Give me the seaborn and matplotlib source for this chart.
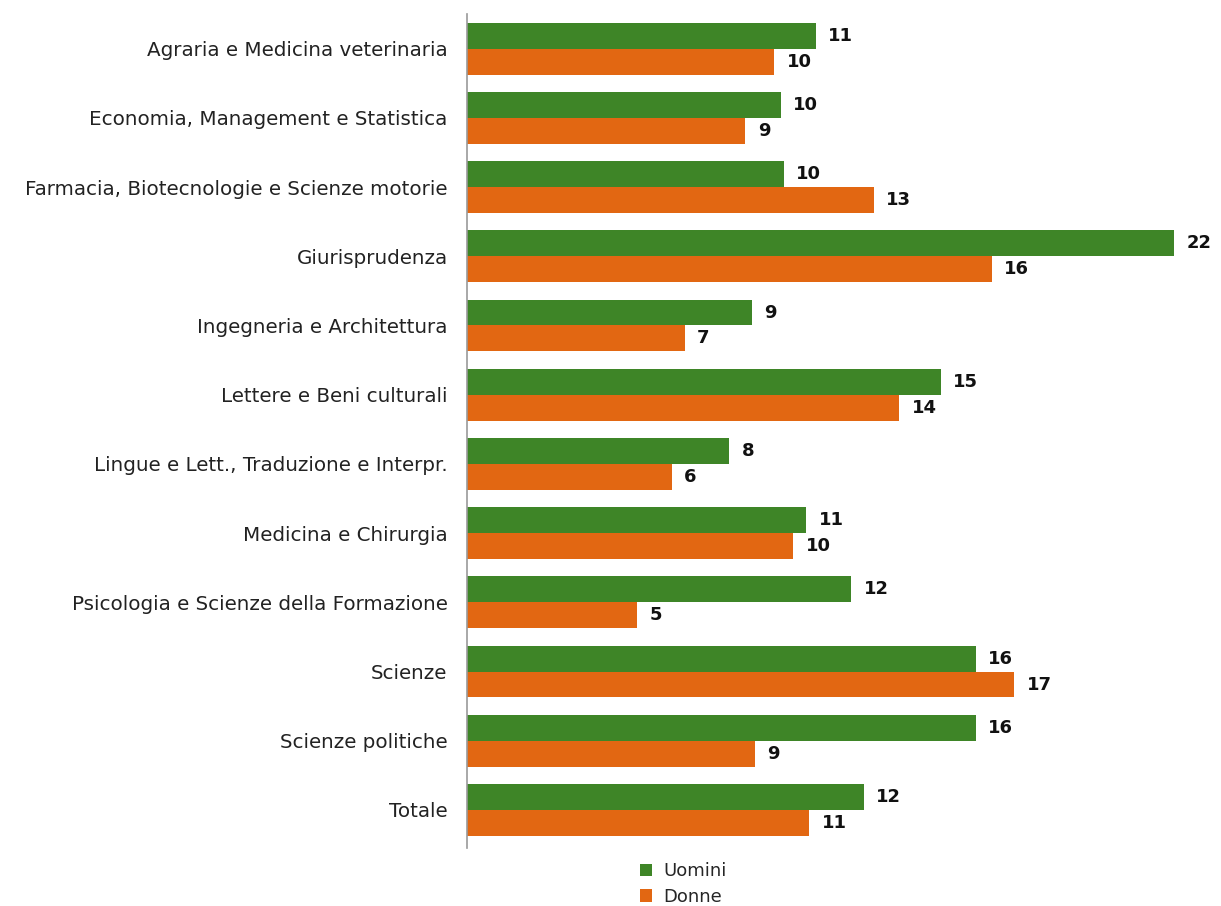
import matplotlib
matplotlib.use("Agg")
import matplotlib.pyplot as plt
import seaborn as sns
import pandas as pd

categories = [
    "Agraria e Medicina veterinaria",
    "Economia, Management e Statistica",
    "Farmacia, Biotecnologie e Scienze motorie",
    "Giurisprudenza",
    "Ingegneria e Architettura",
    "Lettere e Beni culturali",
    "Lingue e Lett., Traduzione e Interpr.",
    "Medicina e Chirurgia",
    "Psicologia e Scienze della Formazione",
    "Scienze",
    "Scienze politiche",
    "Totale",
]
uomini = [10.9, 9.8, 9.9, 22.1, 8.9, 14.8, 8.2, 10.6, 12.0, 15.9, 15.9, 12.4]
donne = [9.6, 8.7, 12.7, 16.4, 6.8, 13.5, 6.4, 10.2, 5.3, 17.1, 9.0, 10.7]
series = ["Uomini", "Donne"]
colors = ["#3e8527", "#e26712"]

df = pd.DataFrame({
    "Area": categories * 2,
    "Valore": uomini + donne,
    "Genere": [series[0]] * len(categories) + [series[1]] * len(categories),
})

sns.set_theme(style="white")
plt.rcParams["font.family"] = ["DejaVu Sans"]

fig = plt.figure(figsize=(12.21, 9.06), dpi=100)
ax = fig.add_axes([0.3825, 0.064, 0.616, 0.9205])

sns.barplot(
    data=df, y="Area", x="Valore", hue="Genere", orient="h",
    palette=colors, width=0.75, ax=ax, legend=True, saturation=1,
    edgecolor="none",
)

for container in ax.containers:
    ax.bar_label(container, fmt="{:.0f}", padding=9,
                 fontsize=13, fontweight="bold", color="#111111")

ax.set_xlim(0, 23.5)
ax.set_ylim(len(categories) - 0.45, -0.5)
ax.set_xlabel("")
ax.set_ylabel("")
ax.set_xticks([])
ax.tick_params(axis="y", length=0, pad=14, labelsize=14.3, labelcolor="#222222")
for side in ["top", "right", "bottom"]:
    ax.spines[side].set_visible(False)
ax.spines["left"].set_color("#999999")
ax.spines["left"].set_linewidth(1.2)

handles, labels = ax.get_legend_handles_labels()
ax.get_legend().remove()
fig.legend(handles, labels, loc="upper left", bbox_to_anchor=(0.518, 0.056),
           frameon=False, fontsize=13, handlelength=0.7, handleheight=0.7,
           handletextpad=0.6, labelspacing=0.4, borderaxespad=0)

fig.savefig("out.png", dpi=100)
